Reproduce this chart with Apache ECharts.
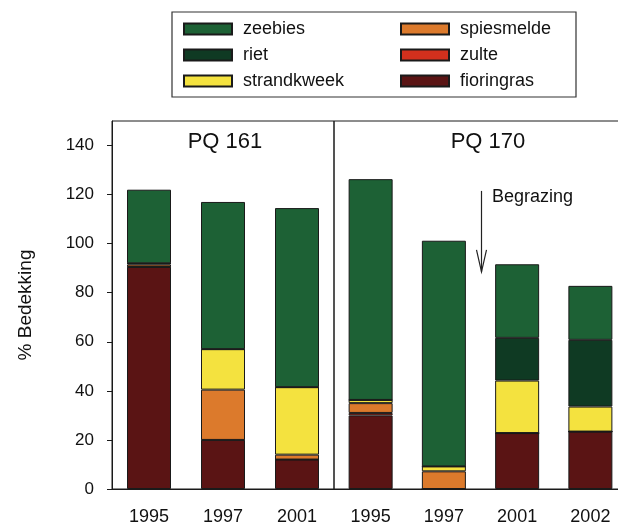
<!DOCTYPE html>
<html>
<head>
<meta charset="utf-8">
<script src="https://cdn.jsdelivr.net/npm/echarts@6/dist/echarts.min.js"></script>
<style>
  html, body { margin: 0; padding: 0; background: #fff; }
  #chart { width: 618px; height: 524px; }
</style>
</head>
<body>
<div id="chart"></div>
<script>
// jaren per proefvlak
var years161 = ['1995', '1997', '2001'];
var years170 = ['1995', '1997', '2001', '2002'];
var yTicks = [0, 20, 40, 60, 80, 100, 120, 140];

// % bedekking per soort, PQ 161
var fioringras161 = [90.5, 20, 12];
var zulte161 = [0, 0, 0];
var spiesmelde161 = [1, 20.5, 2];
var strandkweek161 = [0.5, 16.5, 27.5];
var riet161 = [0, 0, 0];
var zeebies161 = [30, 60, 73];

// % bedekking per soort, PQ 170
var fioringras170 = [30, 0, 22.8, 23.4];
var zulte170 = [1, 0, 0, 0];
var spiesmelde170 = [4, 7.2, 0, 0];
var strandkweek170 = [1.3, 2, 21.4, 10.2];
var riet170 = [0, 0, 17.4, 27.2];
var zeebies170 = [90, 92, 30, 22];

// pijl "Begrazing": tussen 1997 en 2001 (PQ 170), van 121.5 naar 88.5
var pijlVan = 121.5;
var pijlTot = 88.5;

var kleuren = {
  zeebies: '#1d6135',
  riet: '#0f3a23',
  strandkweek: '#f4e23f',
  spiesmelde: '#dc7a2c',
  zulte: '#d2301d',
  fioringras: '#5a1414'
};

var font = "'Liberation Sans', Arial, sans-serif";

function maakSerie(naam, data, idx, stack) {
  return {
    name: naam,
    type: 'bar',
    stack: stack,
    xAxisIndex: idx,
    yAxisIndex: idx,
    barWidth: 44,
    data: data,
    itemStyle: { color: kleuren[naam], borderColor: '#1a1a1a', borderWidth: 1 },
    emphasis: { disabled: true }
  };
}

var series = [
  maakSerie('fioringras', fioringras161, 0, 'a'),
  maakSerie('zulte', zulte161, 0, 'a'),
  maakSerie('spiesmelde', spiesmelde161, 0, 'a'),
  maakSerie('strandkweek', strandkweek161, 0, 'a'),
  maakSerie('riet', riet161, 0, 'a'),
  maakSerie('zeebies', zeebies161, 0, 'a'),
  maakSerie('fioringras', fioringras170, 1, 'b'),
  maakSerie('zulte', zulte170, 1, 'b'),
  maakSerie('spiesmelde', spiesmelde170, 1, 'b'),
  maakSerie('strandkweek', strandkweek170, 1, 'b'),
  maakSerie('riet', riet170, 1, 'b'),
  maakSerie('zeebies', zeebies170, 1, 'b')
];

var xAs = function (data, idx) {
  return {
    type: 'category',
    gridIndex: idx,
    data: data,
    axisLine: { lineStyle: { color: '#1a1a1a', width: 1 } },
    axisTick: { alignWithLabel: true, length: 5, lineStyle: { color: '#1a1a1a' } },
    axisLabel: { color: '#111', fontSize: 18, fontFamily: font, margin: 19 }
  };
};

var legendBasis = {
  orient: 'vertical',
  top: 20,
  padding: 0,
  itemWidth: 48,
  itemHeight: 11,
  itemGap: 8,
  icon: 'rect',
  selectedMode: false,
  textStyle: { fontSize: 18, fontFamily: font, color: '#111', padding: [0, 0, 0, 6] }
};

var kader = {
  type: 'rect',
  shape: { x: 172, y: 12, width: 404, height: 85 },
  style: { fill: 'none', stroke: '#333', lineWidth: 1.2 },
  silent: true
};

var option = {
  backgroundColor: '#fff',
  animation: false,
  title: [
    { text: 'PQ 161', left: 220, top: 126, textAlign: 'center',
      textStyle: { fontSize: 22, fontWeight: 'normal', fontFamily: font, color: '#111' } },
    { text: 'PQ 170', left: 483, top: 126, textAlign: 'center',
      textStyle: { fontSize: 22, fontWeight: 'normal', fontFamily: font, color: '#111' } },
    { text: 'Begrazing', left: 487, top: 183,
      textStyle: { fontSize: 18, fontWeight: 'normal', fontFamily: font, color: '#111' } }
  ],
  legend: [
    Object.assign({ left: 183, data: ['zeebies', 'riet', 'strandkweek'] }, legendBasis),
    Object.assign({ left: 400, data: ['spiesmelde', 'zulte', 'fioringras'] }, legendBasis)
  ],
  graphic: [kader],
  grid: [
    { left: 112, top: 121, width: 222, bottom: 35, show: true, borderColor: '#1a1a1a', borderWidth: 1,
      outerBoundsMode: 'none' },
    { left: 334, top: 121, width: 293, bottom: 35, show: true, borderColor: '#1a1a1a', borderWidth: 1,
      outerBoundsMode: 'none' }
  ],
  xAxis: [xAs(years161, 0), xAs(years170, 1)],
  yAxis: [
    {
      type: 'value',
      gridIndex: 0,
      min: 0,
      max: 150,
      name: '% Bedekking',
      nameLocation: 'middle',
      nameGap: 77,
      nameTextStyle: { fontSize: 19, fontFamily: font, color: '#111' },
      splitLine: { show: false },
      axisLine: { show: true, lineStyle: { color: '#1a1a1a' } },
      axisTick: { show: true, length: 5, customValues: yTicks, lineStyle: { color: '#1a1a1a' } },
      axisLabel: { fontSize: 17, fontFamily: font, color: '#111', margin: 18, customValues: yTicks }
    },
    {
      type: 'value',
      gridIndex: 1,
      min: 0,
      max: 150,
      show: false,
      splitLine: { show: false }
    }
  ],
  series: series
};

var chart = echarts.init(document.getElementById('chart'));
chart.setOption(option);

// pijl via de schalen van grid 2 plaatsen
var f = { xAxisIndex: 1, yAxisIndex: 1 };
var a = chart.convertToPixel(f, [1, pijlVan]);
var b = chart.convertToPixel(f, [2, pijlTot]);
var px = Math.round((a[0] + b[0]) / 2) + 0.5;
chart.setOption({
  graphic: [
    kader,
    {
      type: 'line',
      shape: { x1: px, y1: a[1], x2: px, y2: b[1] },
      style: { stroke: '#222', lineWidth: 1.2 },
      silent: true
    },
    {
      type: 'polyline',
      shape: { points: [[px - 5, b[1] - 22], [px, b[1]], [px + 5, b[1] - 22]] },
      style: { stroke: '#222', lineWidth: 1.2, fill: 'none' },
      silent: true
    }
  ]
});
</script>
</body>
</html>
